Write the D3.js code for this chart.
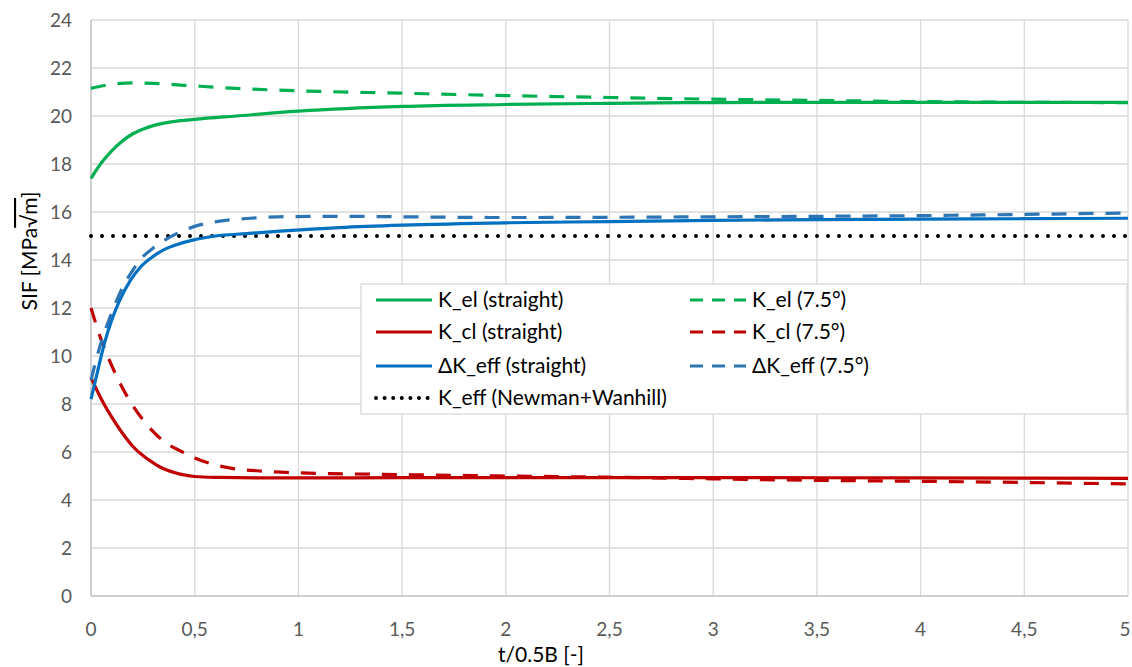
<!DOCTYPE html>
<html><head><meta charset="utf-8">
<script src="https://cdn.jsdelivr.net/npm/d3@7"></script>
<style>body{margin:0;background:#fff;} svg{display:block;} text{font-family:Lato,"Open Sans",sans-serif;}</style>
</head><body>
<svg id="c" width="1132" height="667"></svg>
<script>
// ---- data ----
const xTicks = [0,0.5,1,1.5,2,2.5,3,3.5,4,4.5,5];
const yTicks = [0,2,4,6,8,10,12,14,16,18,20,22,24];
const xTickLabels = ["0","0,5","1","1,5","2","2,5","3","3,5","4","4,5","5"];

const kelStraightT = [0,0.05,0.1,0.15,0.2,0.25,0.3,0.4,0.5,0.7,1,1.5,2,2.5,3,3.5,4,4.5,5];
const kelStraightV = [17.4,18.05,18.55,18.95,19.25,19.45,19.6,19.77,19.86,20.0,20.2,20.4,20.48,20.53,20.56,20.57,20.57,20.57,20.57];

const kel75T = [0,0.1,0.2,0.3,0.45,0.7,1,1.5,2,2.5,3,3.5,4,4.5,5];
const kel75V = [21.15,21.32,21.38,21.36,21.28,21.15,21.05,20.95,20.85,20.77,20.7,20.65,20.6,20.57,20.56];

const kclStraightT = [0,0.05,0.1,0.15,0.2,0.25,0.3,0.35,0.43,0.5,0.62,0.8,1,1.5,2,3,4,5];
const kclStraightV = [9.1,8.2,7.45,6.8,6.25,5.85,5.55,5.3,5.08,4.98,4.94,4.92,4.92,4.93,4.93,4.93,4.92,4.9];

const kcl75T = [0,0.05,0.1,0.15,0.2,0.25,0.3,0.35,0.43,0.5,0.64,0.83,1.15,1.4,2,2.5,3,3.5,4,4.5,5];
const kcl75V = [12.0,10.65,9.6,8.7,7.95,7.35,6.85,6.45,6.05,5.75,5.38,5.2,5.1,5.07,5.0,4.95,4.88,4.82,4.78,4.73,4.67];

const dkStraightT = [0,0.03,0.067,0.1,0.14,0.19,0.24,0.3,0.35,0.42,0.49,0.6,0.75,0.91,1.2,1.5,2,2.5,3,3.5,4,4.5,5];
const dkStraightV = [8.2,9.3,10.6,11.5,12.35,13.15,13.72,14.15,14.42,14.66,14.83,15.0,15.1,15.2,15.35,15.45,15.55,15.6,15.65,15.68,15.7,15.72,15.74];

const dk75T = [0,0.043,0.1,0.155,0.2,0.236,0.3,0.36,0.43,0.5,0.59,0.75,0.9,1.2,1.5,2,2.5,3,3.5,4,4.5,5];
const dk75V = [9.0,10.4,11.8,12.9,13.55,14.0,14.5,14.85,15.17,15.4,15.58,15.73,15.8,15.82,15.8,15.77,15.78,15.8,15.82,15.85,15.9,15.96];

const nwT = [0,5];
const nwV = [15,15];

const seriesNames = ["K_el (straight)","K_el (7.5°)","K_cl (straight)","K_cl (7.5°)","ΔK_eff (straight)","ΔK_eff (7.5°)","K_eff (Newman+Wanhill)"];

// ---- layout ----
const svg = d3.select("#c");
const L=91, R=1128, T=20, B=596;
const x = d3.scaleLinear().domain([0,5]).range([L,R]);
const y = d3.scaleLinear().domain([0,24]).range([B,T]);

// gridlines
svg.append("g").selectAll("line.h").data(yTicks.filter(d=>d>0)).join("line")
  .attr("x1",L).attr("x2",R).attr("y1",d=>y(d)).attr("y2",d=>y(d))
  .attr("stroke","#d9d9d9").attr("stroke-width",1.3);
svg.append("g").selectAll("line.v").data(xTicks.filter(d=>d>0)).join("line")
  .attr("y1",T).attr("y2",B).attr("x1",d=>x(d)).attr("x2",d=>x(d))
  .attr("stroke","#d9d9d9").attr("stroke-width",1.3);
// axes lines
svg.append("line").attr("x1",L).attr("x2",R).attr("y1",B).attr("y2",B).attr("stroke","#bfbfbf").attr("stroke-width",1.5);
svg.append("line").attr("x1",L).attr("x2",L).attr("y1",T).attr("y2",B).attr("stroke","#bfbfbf").attr("stroke-width",1.5);

// tick labels
svg.append("g").selectAll("text").data(yTicks).join("text")
  .attr("x",72).attr("y",d=>y(d)).attr("dy","0.35em").attr("text-anchor","end")
  .attr("font-size",19).attr("fill","#595959").text(d=>d);
svg.append("g").selectAll("text").data(xTicks).join("text")
  .attr("x",d=>Math.min(x(d),1125)).attr("y",629).attr("dy","0.35em").attr("text-anchor","middle")
  .attr("font-size",19).attr("fill","#595959").text((d,i)=>xTickLabels[i]);

// axis titles
svg.append("text").attr("x",541).attr("y",662).attr("text-anchor","middle")
  .attr("font-size",21).attr("fill","#000").text("t/0.5B [-]");
const yt = svg.append("text").attr("transform","translate(37,251) rotate(-90)").attr("text-anchor","middle")
  .attr("font-size",21).attr("fill","#000");
yt.append("tspan").text("SIF [MPa");
yt.append("tspan").attr("text-decoration","overline").text("√m");
yt.append("tspan").text("]");

// lines
const line = d3.line().curve(d3.curveMonotoneX).x(d=>x(d[0])).y(d=>y(d[1]));
const zip=(t,v)=>t.map((d,i)=>[d,v[i]]);
const series = [
  {t:kelStraightT,v:kelStraightV,c:"#00b050",dash:null},
  {t:kel75T,v:kel75V,c:"#00b050",dash:"15,12"},
  {t:kclStraightT,v:kclStraightV,c:"#c00000",dash:null},
  {t:kcl75T,v:kcl75V,c:"#c00000",dash:"15,12"},
  {t:dkStraightT,v:dkStraightV,c:"#0070c0",dash:null},
  {t:dk75T,v:dk75V,c:"#2e75b6",dash:"15,12"},
  {t:nwT,v:nwV,c:"#000000",dash:"0,11",dot:true}
];
const plotOrder=[6,0,1,2,3,4,5];
const g = svg.append("g");
plotOrder.forEach(i=>{
  const s=series[i];
  g.append("path").attr("d",line(zip(s.t,s.v))).attr("fill","none")
   .attr("stroke",s.c).attr("stroke-width",s.dot?4:3.2)
   .attr("stroke-dasharray",s.dash).attr("stroke-linecap",s.dot?"round":"butt");
});

// legend
svg.append("rect").attr("x",361).attr("y",284).attr("width",766).attr("height",130)
  .attr("fill","#fff").attr("stroke","#d9d9d9").attr("stroke-width",1.3);
const legPos = [[376,300],[690,300],[376,332],[690,332],[376,366],[690,366],[376,398]];
series.forEach((s,i)=>{
  const [lx,ly]=legPos[i];
  svg.append("line").attr("x1",lx).attr("x2",lx+56).attr("y1",ly).attr("y2",ly)
    .attr("stroke",s.c).attr("stroke-width",s.dot?4:3.2)
    .attr("stroke-dasharray",s.dot?"0,8.6":(s.dash?"13,9":null)).attr("stroke-linecap",s.dot?"round":"butt");
  svg.append("text").attr("x",lx+62).attr("y",ly).attr("dy","0.35em")
    .attr("font-size",21).attr("fill","#000").text(seriesNames[i]);
});
</script>
</body></html>
